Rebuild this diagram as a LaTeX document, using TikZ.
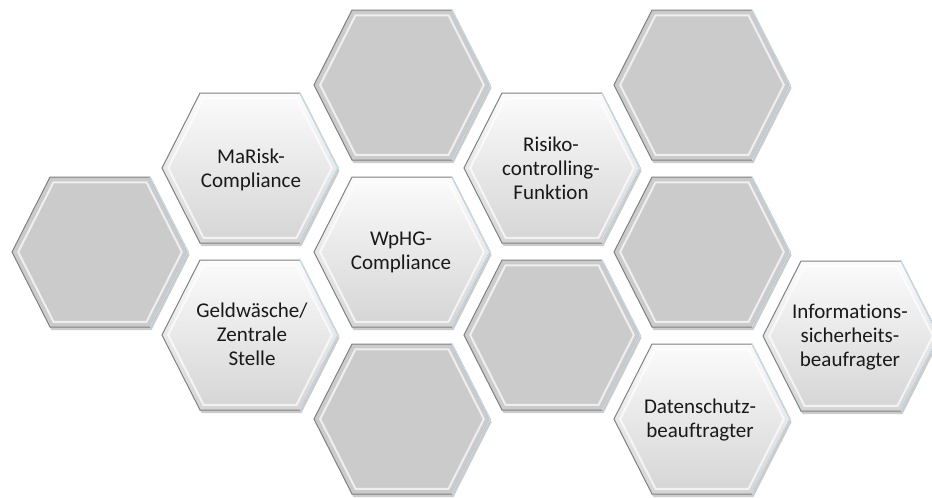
\documentclass[tikz,border=0pt]{standalone}
\usepackage{fontspec}
\setmainfont{Carlito}[Ligatures=CommonOff]
\definecolor{edgeblue}{RGB}{200,222,234}
\definecolor{hexline}{RGB}{128,128,128}
\definecolor{emptygray}{RGB}{203,203,203}
\begin{document}
\begin{tikzpicture}[x=1pt, y=-1pt,
  hexpath/.style={insert path={(-88,0) -- (-50,-75) -- (50,-75) -- (88,0) -- (50,75) -- (-50,75) -- cycle}},
  emptyfill/.style={fill=emptygray},
  labelfill/.style={top color=gray!3, bottom color=gray!33},
  pics/hexcell/.style={code={
     \fill[black, opacity=.2, shift={(1.5,3)}, hexpath];
     \path[#1, hexpath];
     \draw[white, opacity=.7, line width=2pt, scale=.93, hexpath];
     \draw[hexline, line width=1pt, hexpath];
     \draw[edgeblue, line width=1.2pt] (50,-75) -- (88,0) -- (50,75);
  }},
  lbl/.style={font=\fontsize{21}{24}\selectfont, align=center, text=black!90, inner sep=0pt}
]
\useasboundingbox (0,0) rectangle (932,498);
% cell centres
\coordinate (c1) at (100,252);
\coordinate (c2) at (250,168);
\coordinate (c3) at (250,335);
\coordinate (c4) at (402,85);
\coordinate (c5) at (402,252);
\coordinate (c6) at (402,419);
\coordinate (c7) at (552,168);
\coordinate (c8) at (552,335);
\coordinate (c9) at (702,85);
\coordinate (c10) at (702,252);
\coordinate (c11) at (702,419);
\coordinate (c12) at (851,336);
% hexagons
\pic at (c1) {hexcell=emptyfill};
\pic at (c2) {hexcell=labelfill};
\pic at (c3) {hexcell=labelfill};
\pic at (c4) {hexcell=emptyfill};
\pic at (c5) {hexcell=labelfill};
\pic at (c6) {hexcell=emptyfill};
\pic at (c7) {hexcell=labelfill};
\pic at (c8) {hexcell=emptyfill};
\pic at (c9) {hexcell=emptyfill};
\pic at (c10) {hexcell=emptyfill};
\pic at (c11) {hexcell=labelfill};
\pic at (c12) {hexcell=labelfill};
% labels
\node[lbl] (t2) at (251,170) {MaRisk-\\Compliance};
\node[lbl] (t3) at (252,334) {Geldwäsche/\\Zentrale\\Stelle};
\node[lbl] (t5) at (401,252) {WpHG-\\Compliance};
\node[lbl] (t7) at (551,168) {Risiko-\\controlling-\\Funktion};
\node[lbl] (t11) at (700,420) {Datenschutz-\\beauftragter};
\node[lbl] (t12) at (850,337) {Informations-\\sicherheits-\\beaufragter};
\end{tikzpicture}
\end{document}
